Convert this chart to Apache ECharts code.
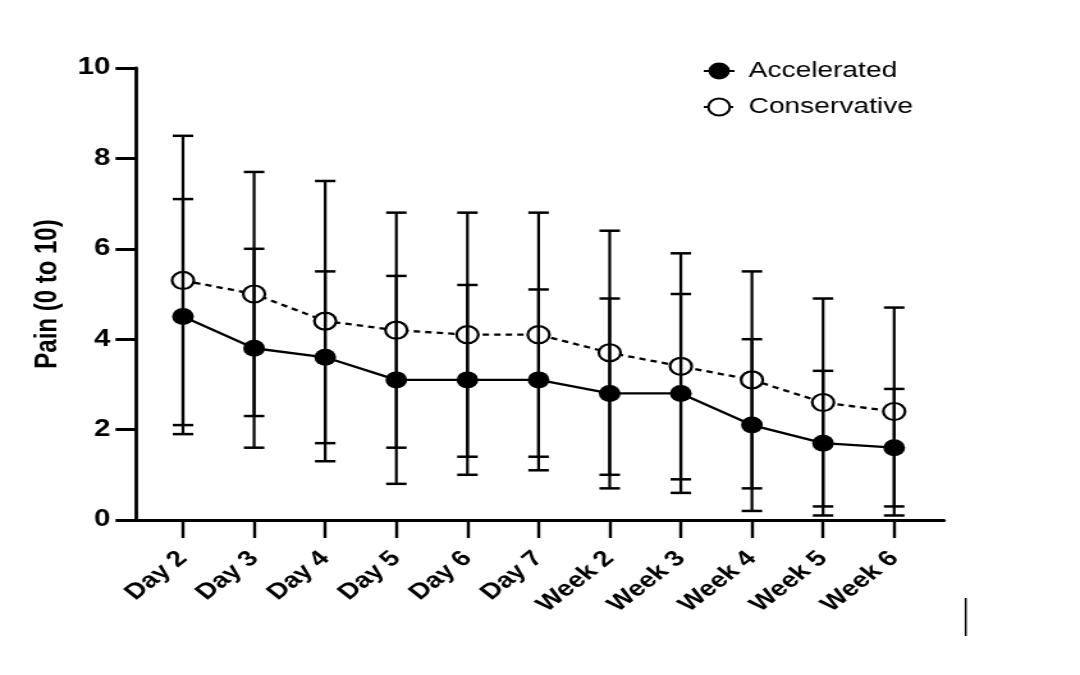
<!DOCTYPE html>
<html>
<head>
<meta charset="utf-8">
<script src="https://cdn.jsdelivr.net/npm/echarts@6/dist/echarts.min.js"></script>
<style>
  html, body { margin: 0; padding: 0; background: #fff; overflow: hidden; }
  #wrap { width: 1080px; height: 675px; overflow: hidden; }
  #chart { width: 844px; height: 675px; transform: scaleX(1.2796); transform-origin: 0 0; }
</style>
</head>
<body>
<div id="wrap"><div id="chart"></div></div>
<script>
const categories = ['Day 2', 'Day 3', 'Day 4', 'Day 5', 'Day 6', 'Day 7', 'Week 2', 'Week 3', 'Week 4', 'Week 5', 'Week 6'];
const acceleratedMean = [4.5, 3.8, 3.6, 3.1, 3.1, 3.1, 2.8, 2.8, 2.1, 1.7, 1.6];
const acceleratedSD   = [2.6, 2.2, 1.9, 2.3, 2.1, 2.0, 2.1, 2.2, 1.9, 1.6, 1.3];
const conservativeMean = [5.3, 5.0, 4.4, 4.2, 4.1, 4.1, 3.7, 3.4, 3.1, 2.6, 2.4];
const conservativeSD   = [3.2, 2.7, 3.1, 2.6, 2.7, 2.7, 2.7, 2.5, 2.4, 2.3, 2.3];
const yTicks = [0, 2, 4, 6, 8, 10];

const FONT = "'Liberation Sans', Arial, Helvetica, sans-serif";
const idx = categories.map((c, i) => i);

function pts(means) { return means.map((v, i) => [i, v]); }
function bars(means, sds) { return means.map((v, i) => [i, +(v - sds[i]).toFixed(2), +(v + sds[i]).toFixed(2)]); }

function renderErrorBar(params, api) {
  const x = api.value(0);
  const lo = api.coord([x, api.value(1)]);
  const hi = api.coord([x, api.value(2)]);
  const half = 8;
  const style = { stroke: '#000', lineWidth: 2.5 };
  return {
    type: 'group',
    children: [
      { type: 'line', shape: { x1: lo[0], y1: lo[1], x2: hi[0], y2: hi[1] }, style: { stroke: '#000', lineWidth: 2.2 } },
      { type: 'line', shape: { x1: lo[0] - half, y1: lo[1], x2: lo[0] + half, y2: lo[1] }, style: style },
      { type: 'line', shape: { x1: hi[0] - half, y1: hi[1], x2: hi[0] + half, y2: hi[1] }, style: style }
    ]
  };
}

const chart = echarts.init(document.getElementById('chart'), null, { renderer: 'canvas' });
chart.setOption({
  animation: false,
  backgroundColor: '#fff',
  grid: { left: 106.3, right: 106.3, top: 68, bottom: 155, containLabel: false },
  legend: {
    data: ['Accelerated', 'Conservative'],
    orient: 'vertical',
    left: 549,
    top: 60,
    padding: 0,
    itemWidth: 24,
    itemHeight: 21,
    itemGap: 14,
    textStyle: { fontFamily: FONT, fontSize: 22, color: '#000', padding: [0, 0, 0, 6] }
  },
  xAxis: {
    type: 'value',
    min: -0.66,
    max: 10.7,
    splitLine: { show: false },
    axisLine: { show: true, onZero: false, lineStyle: { color: '#000', width: 3 } },
    axisTick: { show: true, customValues: idx, length: 18, lineStyle: { color: '#000', width: 2.4 } },
    axisLabel: {
      customValues: idx,
      formatter: function (v) { return categories[Math.round(v)] || ''; },
      rotate: 45,
      margin: 35,
      fontFamily: FONT,
      fontWeight: 'bold',
      fontSize: 22,
      color: '#000'
    }
  },
  yAxis: {
    type: 'value',
    min: 0,
    max: 10,
    interval: 2,
    name: 'Pain (0 to 10)',
    nameLocation: 'middle',
    nameGap: 48,
    nameTextStyle: { fontFamily: FONT, fontWeight: 'bold', fontSize: 24, color: '#000' },
    splitLine: { show: false },
    axisLine: { show: true, onZero: false, lineStyle: { color: '#000', width: 2.8 } },
    axisTick: { show: true, length: 16, lineStyle: { color: '#000', width: 3 } },
    axisLabel: {
      margin: 20,
      fontFamily: FONT,
      fontWeight: 'bold',
      fontSize: 23,
      color: '#000',
      formatter: function (v) { return yTicks.indexOf(v) >= 0 ? String(v) : ''; }
    }
  },
  series: [
    {
      name: 'Accelerated',
      type: 'line',
      data: pts(acceleratedMean),
      symbol: 'circle',
      symbolSize: 17,
      itemStyle: { color: '#000' },
      lineStyle: { color: '#000', width: 2.3 },
      z: 2
    },
    {
      name: 'Conservative',
      type: 'line',
      data: pts(conservativeMean),
      symbol: 'circle',
      symbolSize: 17,
      itemStyle: { color: '#fff', borderColor: '#000', borderWidth: 2.2 },
      lineStyle: { color: '#000', width: 2.3, type: [5, 4] },
      z: 2
    },
    {
      name: 'Accelerated SD',
      type: 'custom',
      renderItem: renderErrorBar,
      data: bars(acceleratedMean, acceleratedSD),
      encode: { x: 0, y: [1, 2] },
      z: 5,
      silent: true
    },
    {
      name: 'Conservative SD',
      type: 'custom',
      renderItem: renderErrorBar,
      data: bars(conservativeMean, conservativeSD),
      encode: { x: 0, y: [1, 2] },
      z: 5,
      silent: true
    }
  ],
  graphic: [
    { type: 'line', shape: { x1: 754.7, y1: 598, x2: 754.7, y2: 636 }, style: { stroke: '#000', lineWidth: 1.5 } }
  ]
});
</script>
</body>
</html>
